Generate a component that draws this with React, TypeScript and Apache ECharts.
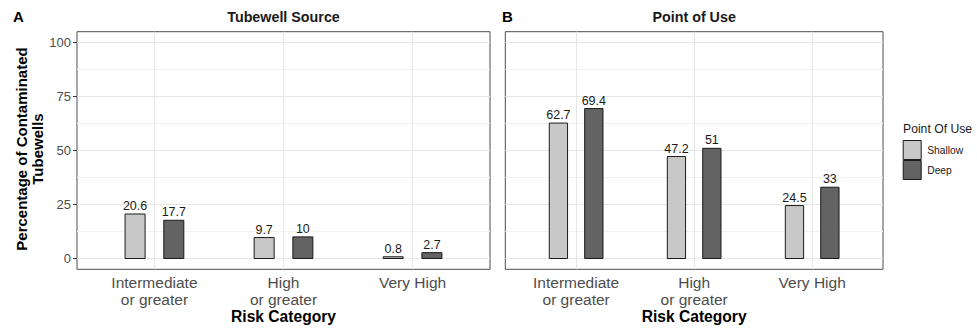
import React, { useEffect, useRef } from "react";
import * as echarts from "echarts";

const categories = ["Intermediate\nor greater", "High\nor greater", "Very High"];
const panelTitles = ["Tubewell Source", "Point of Use"];
const panelTags = ["A", "B"];
const seriesNames = ["Shallow", "Deep"];
const sourceShallow = [20.6, 9.7, 0.8];
const sourceDeep = [17.7, 10, 2.7];
const useShallow = [62.7, 47.2, 24.5];
const useDeep = [69.4, 51, 33];
const yMajorTicks = [0, 25, 50, 75, 100];
const yMinorTicks = [12.5, 37.5, 62.5, 87.5];
const xTicks = [1, 2, 3];

const COLORS = ["#c8c8c8", "#636363"];
const BAR_W = 0.155;
const OFFSETS = [-0.15, 0.15];

const GRIDS = [
  { left: 77, top: 31.7, width: 413, height: 237.6 },
  { left: 505.3, top: 31.7, width: 377.7, height: 237.6 },
];

export default function App() {
  const ref = useRef<HTMLDivElement>(null);
  useEffect(() => {
    if (!ref.current) return;
    const chart = echarts.init(ref.current, null, { renderer: "svg" });
    const panelData = [
      [sourceShallow, sourceDeep],
      [useShallow, useDeep],
    ];

    const grid = GRIDS.map((g) => ({
      ...g,
      show: true,
      borderColor: "#4d4d4d",
      borderWidth: 1,
      backgroundColor: "#fff",
    }));

    const xAxis = GRIDS.map((_, i) => ({
      type: "value",
      gridIndex: i,
      min: 0.4,
      max: 3.6,
      axisLine: { show: false },
      splitLine: { show: false },
      axisTick: {
        show: true,
        length: 4,
        customValues: xTicks,
        lineStyle: { color: "#333" },
      },
      axisLabel: {
        customValues: xTicks,
        formatter: (v: number) => categories[Math.round(v) - 1] ?? "",
        fontFamily: "Liberation Sans, Arial, sans-serif",
        fontSize: 15.5,
        lineHeight: 17.5,
        color: "#4d4d4d",
        margin: 4,
      },
    }));

    const yAxis = GRIDS.map((_, i) => ({
      type: "value",
      gridIndex: i,
      min: -5,
      max: 105,
      axisLine: { show: false },
      splitLine: { show: false },
      axisTick: {
        show: i === 0,
        length: 4,
        customValues: yMajorTicks,
        lineStyle: { color: "#333" },
      },
      axisLabel: {
        show: i === 0,
        customValues: yMajorTicks,
        fontFamily: "Liberation Sans, Arial, sans-serif",
        fontSize: 13,
        color: "#4d4d4d",
        margin: 6,
      },
    }));

    const series: any[] = [];
    GRIDS.forEach((_, p) => {
      series.push({
        type: "line",
        xAxisIndex: p,
        yAxisIndex: p,
        data: [],
        z: 1,
        silent: true,
        markLine: {
          silent: true,
          z: 1,
          zlevel: 0,
          symbol: ["none", "none"],
          label: { show: false },
          animation: false,
          data: [
            ...yMinorTicks.map((v) => ({ yAxis: v, lineStyle: { color: "#f2f2f2", width: 1, type: "solid" } })),
            ...yMajorTicks.map((v) => ({ yAxis: v, lineStyle: { color: "#e6e6e6", width: 1, type: "solid" } })),
            ...xTicks.map((v) => ({ xAxis: v, lineStyle: { color: "#e6e6e6", width: 1, type: "solid" } })),
          ],
        },
      });
      seriesNames.forEach((name, s) => {
        const values = panelData[p][s];
        series.push({
          type: "custom",
          name,
          xAxisIndex: p,
          yAxisIndex: p,
          z: 10,
          itemStyle: { color: COLORS[s] },
          encode: { x: 0, y: 1 },
          data: values.map((v, k) => [xTicks[k], v]),
          renderItem: (params: any, api: any) => {
            const x = api.value(0);
            const y = api.value(1);
            const c = x + OFFSETS[s];
            const p0 = api.coord([c - BAR_W / 2, y]);
            const p1 = api.coord([c + BAR_W / 2, 0]);
            const cx = (p0[0] + p1[0]) / 2;
            return {
              type: "group",
              children: [
                {
                  type: "rect",
                  shape: { x: p0[0], y: p0[1], width: p1[0] - p0[0], height: p1[1] - p0[1] },
                  style: { fill: COLORS[s], stroke: "#1a1a1a", lineWidth: 1 },
                },
                {
                  type: "text",
                  style: {
                    text: String(y),
                    x: cx,
                    y: p0[1] - 8,
                    textAlign: "center",
                    textVerticalAlign: "middle",
                    fontFamily: "Liberation Sans, Arial, sans-serif",
                    fontSize: 12.5,
                    fill: "#1a1a1a",
                  },
                },
              ],
            };
          },
        });
      });
    });

    const graphics: any[] = [];
    GRIDS.forEach((g, p) => {
      graphics.push({
        type: "text",
        x: g.left + g.width / 2,
        y: 16.7,
        style: {
          text: panelTitles[p],
          textAlign: "center",
          textVerticalAlign: "middle",
          fontFamily: "Liberation Sans, Arial, sans-serif",
          fontWeight: "bold",
          fontSize: 14.3,
          fill: "#1a1a1a",
        },
      });
      graphics.push({
        type: "text",
        x: p === 0 ? 13 : 502,
        y: 16.7,
        style: {
          text: panelTags[p],
          textAlign: "left",
          textVerticalAlign: "middle",
          fontFamily: "Liberation Sans, Arial, sans-serif",
          fontWeight: "bold",
          fontSize: 15,
          fill: "#000",
        },
      });
      graphics.push({
        type: "text",
        x: g.left + g.width / 2,
        y: 316.7,
        style: {
          text: "Risk Category",
          textAlign: "center",
          textVerticalAlign: "middle",
          fontFamily: "Liberation Sans, Arial, sans-serif",
          fontWeight: "bold",
          fontSize: 15.6,
          fill: "#000",
        },
      });
    });
    graphics.push({
      type: "text",
      x: 29.2,
      y: 149,
      rotation: Math.PI / 2,
      style: {
        text: "Percentage of Contaminated\nTubewells",
        textAlign: "center",
        textVerticalAlign: "middle",
        lineHeight: 16.3,
        fontFamily: "Liberation Sans, Arial, sans-serif",
        fontWeight: "bold",
        fontSize: 15,
        fill: "#000",
      },
    });
    graphics.push({
      type: "text",
      x: 903,
      y: 128.5,
      style: {
        text: "Point Of Use",
        textAlign: "left",
        textVerticalAlign: "middle",
        fontFamily: "Liberation Sans, Arial, sans-serif",
        fontSize: 12.2,
        fill: "#1a1a1a",
      },
    });

    chart.setOption({
      animation: false,
      grid,
      xAxis,
      yAxis,
      series,
      graphic: graphics,
      legend: {
        orient: "vertical",
        left: 902.7,
        top: 140,
        padding: 0,
        itemGap: 0,
        itemWidth: 18,
        itemHeight: 19,
        icon: "rect",
        data: seriesNames.map((n, i) => ({
          name: n,
          itemStyle: { color: COLORS[i], borderColor: "#1a1a1a", borderWidth: 1 },
        })),
        textStyle: {
          fontFamily: "Liberation Sans, Arial, sans-serif",
          fontSize: 10.3,
          color: "#1a1a1a",
          padding: [0, 0, 0, 1],
        },
        selectedMode: false,
      },
    });
    return () => chart.dispose();
  }, []);
  return (
    <div
      ref={ref}
      style={{ position: "fixed", left: 0, top: 0, width: 977, height: 331, background: "#fff" }}
    />
  );
}
